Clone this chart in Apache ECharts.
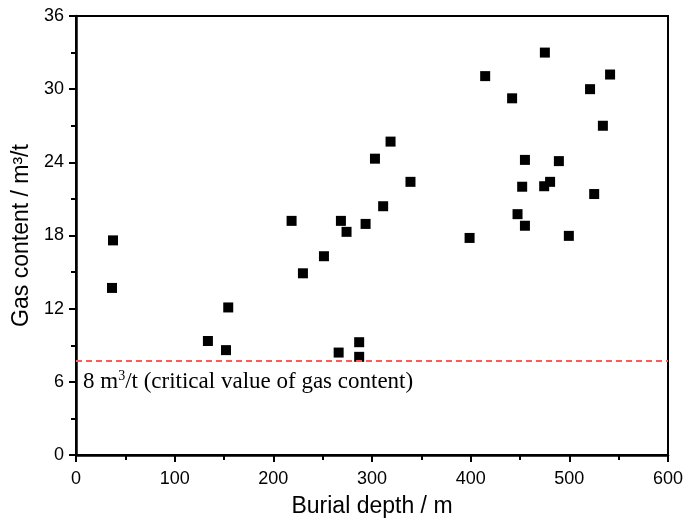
<!DOCTYPE html>
<html>
<head>
<meta charset="utf-8">
<script src="https://cdn.jsdelivr.net/npm/echarts@6/dist/echarts.min.js"></script>
<style>html,body{margin:0;padding:0;background:#fff;} #chart{width:686px;height:520px;}</style>
</head>
<body>
<div id="chart"></div>
<script>
// burial depth (m) and gas content (m3/t)
var depth = [37.5, 36.5, 133.7, 152, 154.3, 318.8, 303, 339, 311.3, 218.5, 268.5, 274.2, 293.5, 251.3, 230, 266.2, 287, 287,
    475.2, 414.7, 541.3, 521, 442, 534, 455, 489.4, 452.2, 480.5, 474.5, 525.2, 447.5, 455, 398.9, 499.5];
var gas = [17.6, 13.7, 9.35, 8.6, 12.1, 25.7, 24.3, 22.4, 20.4, 19.2, 19.2, 18.3, 18.95, 16.3, 14.9, 8.4, 9.25, 8.05,
    33.0, 31.07, 31.2, 30.0, 29.25, 27.0, 24.2, 24.1, 22.0, 22.4, 22.04, 21.4, 19.75, 18.8, 17.8, 17.97];
var criticalLine = 7.7;

var points = [];
for (var i = 0; i < depth.length; i++) {
    points.push([depth[i], gas[i]]);
}

var myChart = echarts.init(document.getElementById('chart'));

var option = {
    animation: false,
    grid: {left: 76, right: 18, top: 16, bottom: 65, outerBoundsMode: 'none', containLabel: false,
        show: true, borderColor: '#000', borderWidth: 2},
    xAxis: {
        type: 'value', min: 0, max: 600, interval: 100,
        name: 'Burial depth / m', nameLocation: 'middle', nameGap: 40,
        nameTextStyle: {fontFamily: 'Liberation Sans', fontSize: 23, color: '#000'},
        axisLine: {show: true, lineStyle: {color: '#000', width: 2.5}},
        axisTick: {show: true, inside: false, length: 7, lineStyle: {color: '#000', width: 2}},
        minorTick: {show: true, splitNumber: 2, length: 5, lineStyle: {color: '#000', width: 2}},
        axisLabel: {fontFamily: 'Liberation Sans', fontSize: 18, color: '#000', margin: 15},
        splitLine: {show: false}
    },
    yAxis: {
        type: 'value', min: 0, max: 36, interval: 6,
        name: 'Gas content / m³/t', nameLocation: 'middle', nameGap: 41,
        nameTextStyle: {fontFamily: 'Liberation Sans', fontSize: 23, color: '#000'},
        axisLine: {show: true, lineStyle: {color: '#000', width: 2.5}},
        axisTick: {show: true, inside: false, length: 7, lineStyle: {color: '#000', width: 2}},
        minorTick: {show: true, splitNumber: 2, length: 5, lineStyle: {color: '#000', width: 2}},
        axisLabel: {fontFamily: 'Liberation Sans', fontSize: 18, color: '#000', margin: 12},
        splitLine: {show: false}
    },
    series: [{
        type: 'scatter', data: points, symbol: 'rect', symbolSize: 10,
        itemStyle: {color: '#000', opacity: 1},
        markLine: {
            silent: true, symbol: 'none', label: {show: false},
            lineStyle: {color: '#ff5a5a', type: [6, 4], width: 2, opacity: 1},
            data: [{yAxis: criticalLine}]
        }
    }],
    graphic: [{
        type: 'text', left: 83, top: 369,
        style: {
            text: '{a|8 m}{s|3}{a|/t (critical value of gas content)}',
            rich: {
                a: {fontFamily: 'Liberation Serif', fontSize: 23, fill: '#000', verticalAlign: 'bottom'},
                s: {fontFamily: 'Liberation Serif', fontSize: 14, fill: '#000', verticalAlign: 'top', padding: [0, 0, 10, 0]}
            }
        }
    }]
};

myChart.setOption(option);
</script>
</body>
</html>
